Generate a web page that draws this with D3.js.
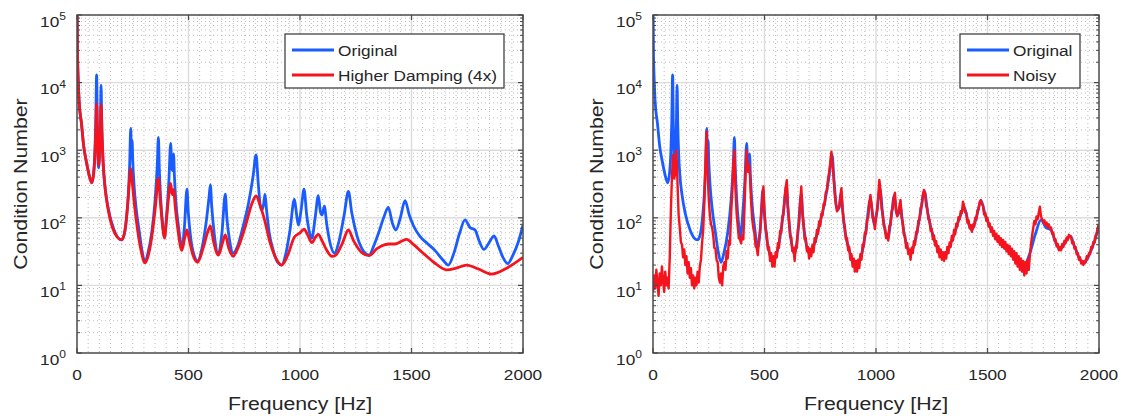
<!DOCTYPE html>
<html><head><meta charset="utf-8">
<script src="https://cdn.jsdelivr.net/npm/d3@7"></script>
<style>body{margin:0;background:#fff}svg{display:block}</style>
</head><body><svg id="chart" width="1121" height="419"></svg>
<script>
// ---------- data ----------
const xTicks = [0, 500, 1000, 1500, 2000];
const yTicks = [1, 10, 100, 1000, 10000, 100000];
const yTickExp = ["0", "1", "2", "3", "4", "5"];
const xLabel = "Frequency [Hz]";
const yLabel = "Condition Number";

const origFreq = [0,2,5,10,20,30,43,55,66,74,80,84,88,91,94,97,101,105,108,111,115,120,130,145,165,185,200,212,222,230,236,241,244,247,250,256,265,280,292,305,318,335,350,360,365,369,375,384,392,402,412,420,425,429,433,437,443,455,470,482,493,499,510,525,541,560,580,592,598,604,615,634,650,665,672,685,700,720,745,770,790,803,812,822,830,837,843,850,862,880,900,918,935,955,975,985,993,1005,1018,1030,1042,1053,1068,1082,1092,1099,1109,1120,1135,1155,1175,1198,1217,1232,1255,1285,1310,1330,1352,1375,1396,1415,1430,1450,1471,1490,1510,1538,1570,1605,1640,1665,1690,1715,1740,1762,1785,1805,1825,1848,1870,1890,1910,1931,1955,1980,2000];
const origValue = [200000,30000,12000,5000,2500,1150,650,420,330,450,900,2500,13000,2500,800,550,900,2500,9200,2500,900,450,220,115,68,50,47,57,100,220,600,2100,900,1400,700,300,140,60,32,22,30,60,180,600,1540,550,200,80,52,110,350,1260,550,500,880,400,180,75,36,75,265,120,50,28,23,35,90,200,307,150,60,29,60,223,100,45,30,38,75,170,420,850,350,150,130,160,223,130,60,33,22,20,28,65,188,110,78,130,265,110,62,50,100,213,120,110,149,80,42,30,45,110,245,120,55,32,28,38,59,100,142,82,66,100,179,110,75,53,42,33,24,20,30,58,93,72,66,44,34,43,54,38,26,21,28,45,78];

const dampFreq = [0,2,5,10,20,30,43,55,66,74,80,84,88,92,97,102,105,108,112,117,125,140,160,180,200,215,227,236,241,248,258,272,288,305,320,338,352,365,374,384,392,402,412,420,427,433,441,453,470,484,493,503,520,541,565,585,598,612,634,652,665,680,700,725,755,785,803,822,843,865,890,918,945,975,990,1000,1018,1035,1053,1070,1082,1100,1120,1142,1160,1190,1217,1240,1275,1310,1345,1381,1400,1426,1455,1478,1510,1545,1600,1658,1700,1747,1800,1860,1927,2000];
const dampValue = [200000,30000,12000,5000,2500,1150,650,420,330,420,800,1800,4900,1600,600,1000,2000,4700,1800,700,300,130,70,52,47,65,150,380,540,330,150,65,32,21.5,28,60,150,385,170,75,50,100,220,324,220,260,140,65,33,52,66,48,28,22,35,60,76,45,28,42,56,36,27,38,75,165,210,150,88,44,26,20,28,52,57,60,68,55,43,52,57,45,33,27,28,42,66,46,31,27.5,35,40,41,41,45,48,40,31.5,22,17,18,20,17.5,14.7,18,26];

const noisyStep = 5; // Hz between samples of the noisy curve, starting at 0 Hz
const noisyValue = [
 8,14,9,17,11,7,15,10,19,12,8,16,10,13,9,25,120,420,850,380,
 450,1000,320,110,72,44,40,26,34,20,27,15,22,13,18,10,14,9,13,10,
 16,11,19,24,42,65,160,600,1900,450,190,110,80,72,55,36,35,24,22,13,
 11,15,10,19,22,17,32,25,46,40,110,220,600,1000,260,115,75,50,48,42,
 55,48,130,420,1000,480,620,420,170,95,70,58,38,36,28,48,62,110,180,290,
 125,68,58,34,37,23,30,19,27,19,31,26,42,36,64,60,105,110,200,280,
 360,150,95,52,52,32,36,23,38,36,68,82,165,290,120,85,48,50,32,37,
 25,35,27,40,31,50,44,66,58,88,76,115,108,160,155,240,250,380,470,650,
 950,600,400,230,160,125,140,140,210,275,145,88,75,48,50,33,37,24,29,19,
 25,16,23,16,24,18,29,24,40,38,60,58,95,100,160,218,160,100,95,68,
 105,125,210,363,260,140,115,76,72,50,58,46,76,78,125,135,200,235,125,105,
 122,150,183,100,86,56,55,36,42,29,34,24,36,30,45,40,62,60,90,94,
 140,150,215,258,230,150,135,95,92,64,68,48,55,39,45,31,38,26,34,24,
 31,23,31,25,37,30,43,37,54,46,66,57,82,74,102,95,125,118,173,150,
 120,118,85,92,70,78,62,80,74,100,95,130,132,172,183,160,150,112,118,90,
 100,74,82,62,72,54,64,48,58,44,54,40,50,37,47,35,44,32,40,29,
 38,27,35,24,32,21,30,19,27,17,25,16,23,14,22,15,24,17,28,40,
 55,70,90,80,105,95,120,146,105,95,85,92,78,85,72,80,70,72,58,60,
 46,48,38,41,33,37,33,41,37,46,42,51,47,56,52,53,42,44,35,37,
 29,30,24,26,21,23,20,23,22,27,25,30,29,37,36,44,43,55,58,72,
 80];

const legendLeft = ["Original", "Higher Damping (4x)"];
const legendRight = ["Original", "Noisy"];

// ---------- drawing ----------
const svg = d3.select("#chart");
const FONT = "'Liberation Sans', Arial, Helvetica, sans-serif";
const TXT = "#262626";
const BLUE = "#1a5cff", RED = "#f5141e";
const SX = 1.15;

function txt(g, x, y, s, size, anchor, rot) {
  return g.append("text")
    .attr("transform", `translate(${x},${y})` + (rot ? ` rotate(${rot})` : "") + ` scale(${SX},1)`)
    .attr("text-anchor", anchor || "start")
    .attr("font-family", FONT).attr("font-size", size).attr("fill", TXT)
    .text(s);
}

const plotTop = 15, plotBottom = 353;
const panels = [
  { left: 77, right: 523, series: [
      { f: origFreq, v: origValue, color: BLUE, curve: true, w: 2.8 },
      { f: dampFreq, v: dampValue, color: RED, curve: true, w: 2.8 } ],
    legend: legendLeft, lg: { x0: 285, x1: 504 } },
  { left: 653, right: 1099, series: [
      { f: origFreq, v: origValue, color: BLUE, curve: true, w: 2.8 },
      { f: noisyValue.map((_, i) => i * noisyStep), v: noisyValue, color: RED, curve: false, w: 2.4 } ],
    legend: legendRight, lg: { x0: 960, x1: 1080 } }
];

panels.forEach((p, pi) => {
  const x = d3.scaleLinear().domain([0, 2000]).range([p.left, p.right]);
  const y = d3.scaleLog().domain([1, 100000]).range([plotBottom, plotTop]);
  const g = svg.append("g");

  // minor grid (dotted)
  const xMinor = d3.range(50, 2000, 50).filter(v => v % 500 !== 0);
  g.selectAll(".xmg").data(xMinor).join("line")
    .attr("x1", d => x(d)).attr("x2", d => x(d)).attr("y1", plotTop).attr("y2", plotBottom)
    .attr("stroke", "#bdbdbd").attr("stroke-width", 1).attr("stroke-dasharray", "1,3");
  const yMinor = [];
  for (let k = 0; k < 5; k++) for (let m = 2; m <= 9; m++) yMinor.push(m * Math.pow(10, k));
  g.selectAll(".ymg").data(yMinor).join("line")
    .attr("x1", p.left).attr("x2", p.right).attr("y1", d => y(d)).attr("y2", d => y(d))
    .attr("stroke", "#bdbdbd").attr("stroke-width", 1).attr("stroke-dasharray", "1,3");
  // major grid
  g.selectAll(".xg").data(xTicks.slice(1, -1)).join("line")
    .attr("x1", d => x(d)).attr("x2", d => x(d)).attr("y1", plotTop).attr("y2", plotBottom)
    .attr("stroke", "#dcdcdc").attr("stroke-width", 1.4);
  g.selectAll(".yg").data(yTicks.slice(1, -1)).join("line")
    .attr("x1", p.left).attr("x2", p.right).attr("y1", d => y(d)).attr("y2", d => y(d))
    .attr("stroke", "#dcdcdc").attr("stroke-width", 1.4);

  // clip
  const cid = "clip" + pi;
  svg.append("clipPath").attr("id", cid).append("rect")
    .attr("x", p.left).attr("y", plotTop).attr("width", p.right - p.left).attr("height", plotBottom - plotTop);

  // series
  p.series.forEach(s => {
    const pts = s.f.map((f, i) => [f, s.v[i]]);
    const line = d3.line().x(d => x(d[0])).y(d => y(d[1]))
      .curve(s.curve ? d3.curveMonotoneX : d3.curveLinear);
    g.append("path").attr("clip-path", `url(#${cid})`).attr("d", line(pts))
      .attr("fill", "none").attr("stroke", s.color).attr("stroke-width", s.w)
      .attr("stroke-linejoin", "round");
  });

  // axes box and ticks
  const ax = "#4a4a4a";
  g.append("rect").attr("x", p.left).attr("y", plotTop).attr("width", p.right - p.left).attr("height", plotBottom - plotTop)
    .attr("fill", "none").attr("stroke", ax).attr("stroke-width", 1.5);
  xTicks.forEach(t => {
    g.append("line").attr("x1", x(t)).attr("x2", x(t)).attr("y1", plotBottom).attr("y2", plotBottom - 5).attr("stroke", ax).attr("stroke-width", 1.2);
    g.append("line").attr("x1", x(t)).attr("x2", x(t)).attr("y1", plotTop).attr("y2", plotTop + 5).attr("stroke", ax).attr("stroke-width", 1.2);
  });
  yTicks.forEach(t => {
    g.append("line").attr("x1", p.left).attr("x2", p.left + 5).attr("y1", y(t)).attr("y2", y(t)).attr("stroke", ax).attr("stroke-width", 1.2);
    g.append("line").attr("x1", p.right).attr("x2", p.right - 5).attr("y1", y(t)).attr("y2", y(t)).attr("stroke", ax).attr("stroke-width", 1.2);
  });
  yMinor.forEach(t => {
    g.append("line").attr("x1", p.left).attr("x2", p.left + 3).attr("y1", y(t)).attr("y2", y(t)).attr("stroke", ax).attr("stroke-width", 1);
    g.append("line").attr("x1", p.right).attr("x2", p.right - 3).attr("y1", y(t)).attr("y2", y(t)).attr("stroke", ax).attr("stroke-width", 1);
  });

  // tick labels
  xTicks.forEach(t => txt(g, x(t), 380, String(t), 15, "middle"));
  yTicks.forEach((t, i) => {
    const el = g.append("text")
      .attr("transform", `translate(${p.left - 11},${y(t) + 11.5}) scale(${SX},1)`)
      .attr("text-anchor", "end").attr("font-family", FONT).attr("font-size", 15).attr("fill", TXT);
    el.append("tspan").text("10");
    el.append("tspan").attr("dy", -6.5).attr("font-size", 10.5).text(yTickExp[i]);
  });

  // axis labels
  txt(g, (p.left + p.right) / 2, 410, xLabel, 18.5, "middle");
  txt(g, p.left - 50, (plotTop + plotBottom) / 2, yLabel, 18.5, "middle", -90);

  // legend
  const lg = g.append("g");
  lg.append("rect").attr("x", p.lg.x0).attr("y", 34).attr("width", p.lg.x1 - p.lg.x0).attr("height", 54)
    .attr("fill", "#fff").attr("stroke", "#333").attr("stroke-width", 1.2);
  p.legend.forEach((name, i) => {
    const ly = 50 + i * 25;
    lg.append("line").attr("x1", p.lg.x0 + 7).attr("x2", p.lg.x0 + 49).attr("y1", ly).attr("y2", ly)
      .attr("stroke", p.series[i].color).attr("stroke-width", 2.8);
    txt(lg, p.lg.x0 + 53, ly + 6, name, 15, "start");
  });
});
</script></body></html>
